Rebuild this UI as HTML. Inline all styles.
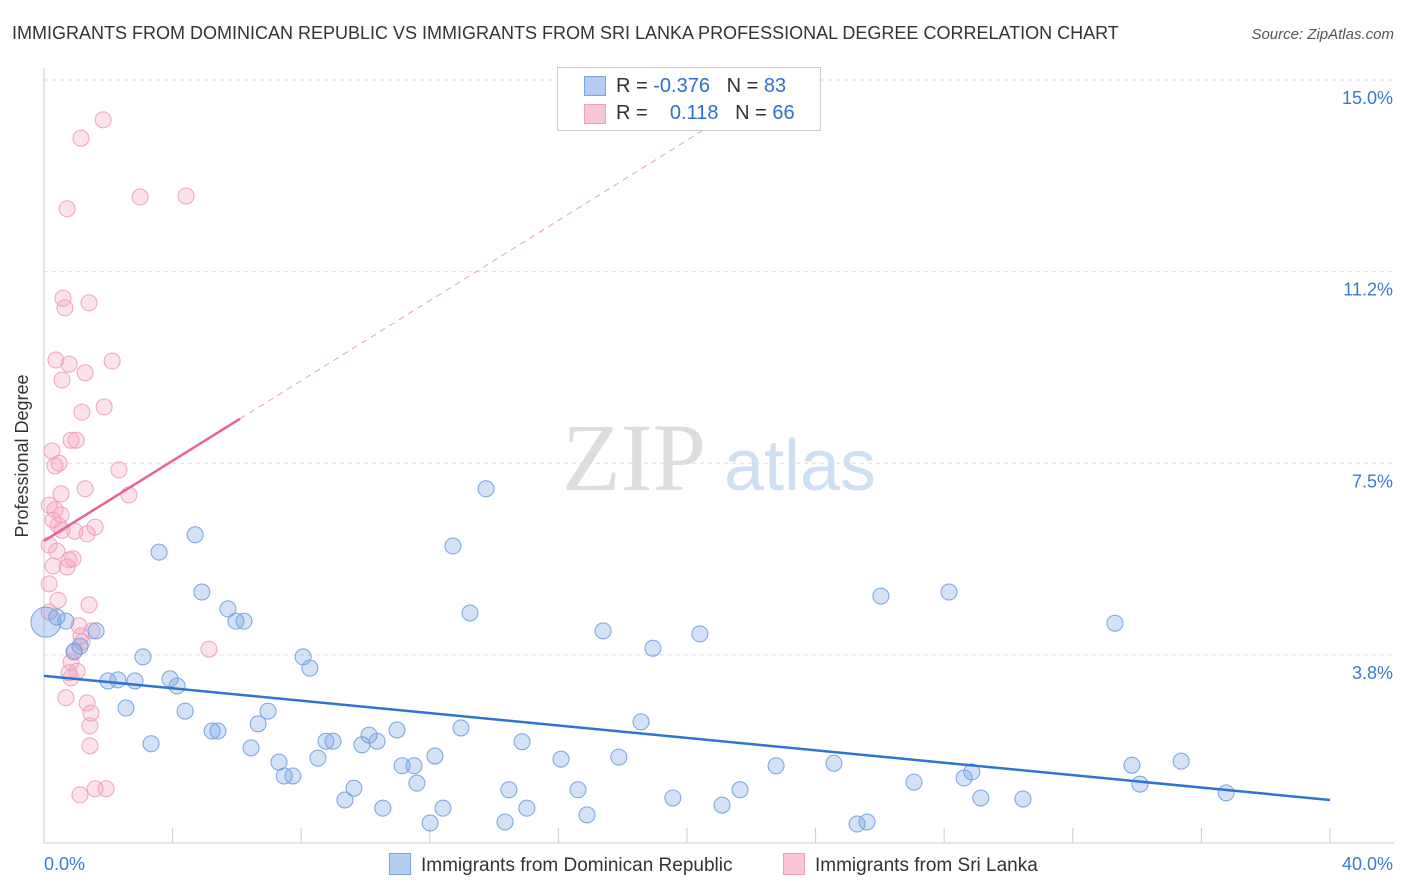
<!DOCTYPE html>
<html><head><meta charset="utf-8"><style>
body{margin:0;background:#fff;font-family:"Liberation Sans",sans-serif;}
#wrap{position:relative;width:1406px;height:892px;overflow:hidden}
</style></head><body>
<div id="wrap">
<svg id="svg" width="1406" height="892" xmlns="http://www.w3.org/2000/svg">
<text x="12" y="39" font-size="18" fill="#333">IMMIGRANTS FROM DOMINICAN REPUBLIC VS IMMIGRANTS FROM SRI LANKA PROFESSIONAL DEGREE CORRELATION CHART</text>
<text x="1394" y="39" font-size="15" fill="#555" font-style="italic" text-anchor="end">Source: ZipAtlas.com</text>
<text x="28" y="456" font-size="18" fill="#333" text-anchor="middle" transform="rotate(-90 28 456)">Professional Degree</text>
<g><text x="634" y="490" font-size="96" fill="#ddd" text-anchor="middle" font-family="Liberation Serif,serif">ZIP</text><text x="800" y="490" font-size="72" fill="#cfe0f2" text-anchor="middle">atlas</text></g>
<g id="grid"></g><g id="marks"></g>
</svg>
<div style="position:absolute;left:557px;top:67px;width:262px;height:62px;border:1px solid #ccc;background:#fff;font-size:20px;color:#333">
<div style="position:absolute;left:26px;top:8px;width:20px;height:18px;background:#b4cdf2;border:1px solid #7aa6e0"></div>
<div style="position:absolute;left:58px;top:7px">R = <span style="color:#2f6fd0">-0.376</span> &nbsp;&nbsp;N = <span style="color:#2f6fd0">83</span></div>
<div style="position:absolute;left:26px;top:36px;width:20px;height:18px;background:#f8c6d4;border:1px solid #eea0b6"></div>
<div style="position:absolute;left:58px;top:34px">R = &nbsp;&nbsp;&nbsp;<span style="color:#2f6fd0">0.118</span> &nbsp;&nbsp;N = <span style="color:#2f6fd0">66</span></div>
</div>
<div style="position:absolute;left:389px;top:853px;font-size:19px;color:#333"><span style="display:inline-block;width:20px;height:20px;background:#b4cdf2;border:1px solid #7aa6e0;vertical-align:-4px;margin-right:10px"></span>Immigrants from Dominican Republic</div>
<div style="position:absolute;left:783px;top:853px;font-size:19px;color:#333"><span style="display:inline-block;width:20px;height:20px;background:#f8c6d4;border:1px solid #eea0b6;vertical-align:-4px;margin-right:10px"></span>Immigrants from Sri Lanka</div>
</div>
<script>
const yTicks=[3.8,7.5,11.2,15.0];
const yTickVals=[3.75,7.5,11.25,15];
const xTicks=[0,4,8,12,16,20,24,28,32,36,40];
const blueX=[0.40,0.68,1.62,0.93,1.12,1.99,2.30,2.83,3.08,2.55,3.33,3.58,3.92,4.14,4.39,4.70,4.91,5.23,5.41,5.72,5.97,6.22,6.44,6.66,6.97,7.31,7.47,7.74,8.06,8.27,8.52,8.77,8.99,9.36,9.64,9.89,10.11,10.36,10.54,10.98,11.14,11.51,11.60,12.01,12.16,12.41,12.72,12.97,13.25,13.75,14.34,14.46,14.87,15.02,16.08,16.61,16.89,17.39,17.88,18.57,18.94,19.56,20.40,21.09,21.65,22.77,24.57,25.29,25.60,26.03,27.06,28.15,28.62,28.86,29.14,30.45,33.31,33.84,34.09,35.37,36.77];
const blueY=[4.49,4.41,4.22,3.81,3.92,3.24,3.26,3.24,3.71,2.71,2.01,5.76,3.28,3.14,2.65,6.10,4.98,2.26,2.26,4.65,4.41,4.41,1.93,2.40,2.65,1.65,1.38,1.38,3.71,3.49,1.73,2.06,2.06,0.91,1.14,1.99,2.18,2.06,0.75,2.28,1.58,1.58,1.24,0.46,1.77,0.75,5.88,2.32,4.57,7.00,0.48,1.11,2.05,0.75,1.71,1.11,0.62,4.22,1.75,2.44,3.88,0.95,4.16,0.81,1.11,1.58,1.63,0.44,0.48,4.90,1.26,4.98,1.34,1.46,0.95,0.93,4.37,1.59,1.22,1.67,1.05];
const pinkX=[1.84,1.15,2.99,4.42,0.72,0.59,1.40,0.65,0.37,0.78,2.12,1.28,0.56,1.18,1.87,0.84,1.00,0.25,0.47,0.34,2.33,1.28,2.64,0.53,0.16,0.34,0.53,0.28,0.44,1.59,0.96,1.34,0.56,0.16,0.40,0.78,0.90,0.72,0.28,0.16,0.44,1.40,0.16,1.09,1.15,1.18,1.49,5.13,0.96,0.84,0.78,1.03,0.84,0.68,1.34,1.46,1.43,1.43,1.12,1.59,1.93];
const pinkY=[14.22,13.86,12.71,12.73,12.48,10.73,10.64,10.54,9.52,9.44,9.50,9.27,9.13,8.50,8.60,7.95,7.95,7.74,7.50,7.45,7.37,7.00,6.88,6.90,6.68,6.59,6.49,6.39,6.29,6.25,6.17,6.12,6.19,5.90,5.78,5.61,5.63,5.47,5.49,5.14,4.82,4.73,4.59,4.32,4.12,4.00,4.22,3.86,3.83,3.61,3.40,3.43,3.30,2.91,2.81,2.61,2.36,1.97,1.01,1.13,1.13];
const bigBlue=[0.06,4.39];
const blueTrend=[3.34,0.91];
const pinkTrend=[5.98,0.392];
const X=v=>44+v*32.15, Y=v=>80+(15-v)*51.1;
const NS="http://www.w3.org/2000/svg";
function mk(t,a,p){const e=document.createElementNS(NS,t);for(const k in a)e.setAttribute(k,a[k]);p.appendChild(e);return e;}
const g=document.getElementById('grid'), m=document.getElementById('marks');
yTickVals.forEach((v,i)=>{
 const l=mk('line',{x1:44,x2:1394,y1:Y(v),y2:Y(v),stroke:'#ddd','stroke-dasharray':'4,4'},g);
 
 
 const t=mk('text',{x:1393,y:Y(v)+24,'font-size':18,fill:'#3b78d8','text-anchor':'end'},g);
 t.textContent=yTicks[i].toFixed(1)+'%';
 
 
});
const ax=mk('line',{x1:44,x2:1394,y1:843,y2:843,stroke:'#ccc'},g);


const ay=mk('line',{x1:44,x2:44,y1:68,y2:843,stroke:'#ccc'},g);


xTicks.forEach(v=>{
 const l=mk('line',{x1:X(v),x2:X(v),y1:828,y2:843,stroke:'#ccc'},g);
 
 
});
[[0,'0.0%','start',44],[40,'40.0%','end',1393]].forEach(d=>{
 const t=mk('text',{x:d[3],y:870,'font-size':18,fill:'#3b78d8','text-anchor':d[2]},g);
 t.textContent=d[1];
 
 
});
pinkX.forEach((x,i)=>{
 const c=mk('circle',{cx:X(x),cy:Y(pinkY[i]),r:8,fill:'rgba(244,160,188,0.3)',stroke:'#f0a4bc','stroke-width':1},m);
 
 
});
blueX.forEach((x,i)=>{
 const c=mk('circle',{cx:X(x),cy:Y(blueY[i]),r:8,fill:'rgba(110,160,230,0.3)',stroke:'#78a4e0','stroke-width':1},m);
 
 
});
const bb=mk('circle',{cx:X(bigBlue[0]),cy:Y(bigBlue[1]),r:15,fill:'rgba(110,160,230,0.35)',stroke:'#78a4e0'},m);


const bt=mk('line',{x1:X(0),y1:Y(blueTrend[0]),x2:X(40),y2:Y(blueTrend[1]),stroke:'#2f74d0','stroke-width':2.5},m);


const pe=6.1, pd=(15-pinkTrend[0])/pinkTrend[1];
const ps=mk('line',{x1:X(0),y1:Y(pinkTrend[0]),x2:X(pe),y2:Y(pinkTrend[0]+pinkTrend[1]*pe),stroke:'#e8648f','stroke-width':2.5},m);


const pdl=mk('line',{x1:X(pe),y1:Y(pinkTrend[0]+pinkTrend[1]*pe),x2:X(pd),y2:Y(15),stroke:'#eaa0b8','stroke-width':1,'stroke-dasharray':'6,5'},m);


</script>
</body></html>
